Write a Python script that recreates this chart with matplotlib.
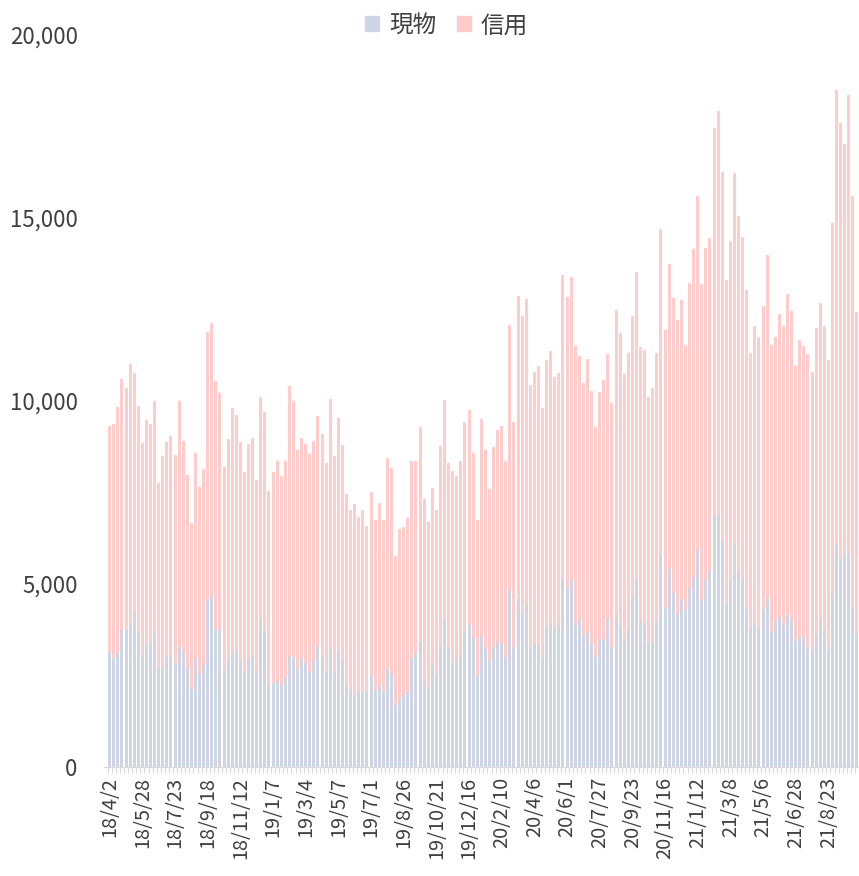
import matplotlib.pyplot as plt
import matplotlib.patches as mpatches
import numpy as np

# =========================================================
# FONTS
# =========================================================

plt.rcParams['font.family'] = ['Noto Sans CJK JP', 'DejaVu Sans']

# =========================================================
# DATA (weekly, values)
# =========================================================

date_labels = [
    "18/4/2", "18/5/28", "18/7/23", "18/9/18", "18/11/12", "19/1/7",
    "19/3/4", "19/5/7", "19/7/1", "19/8/26", "19/10/21", "19/12/16",
    "20/2/10", "20/4/6", "20/6/1", "20/7/27", "20/9/23", "20/11/16",
    "21/1/12", "21/3/8", "21/5/6", "21/6/28", "21/8/23",
]

spot = [
    3150, 2990, 3110, 3750, 3750, 3920, 4220, 3710, 3070, 3330, 3390, 3650, 2710, 2690, 3010, 3010,
    2810, 3310, 3110, 2710, 2120, 2970, 2530, 2780, 4560, 4700, 3750, 3750, 2630, 2950, 3110,
    3150, 2900, 2590, 2930, 3030, 2630, 4010, 3710, 2210, 2300, 2360, 2240, 2470, 3030, 2990, 2690,
    2950, 2830, 2590, 2930, 3310, 3070, 2590, 3190, 2570, 3150, 2870, 2230, 2090, 1970, 2050, 2060,
    2090, 2510, 2090, 2230, 2090, 2690, 2510, 1690, 1870, 1970, 2060, 2970, 3110, 3410, 2350,
    2170, 2780, 2510, 3310, 4010, 3250, 2870, 2990, 3030, 3690, 3870, 3530, 2480, 3570, 3230, 2890,
    3270, 3410, 3370, 3010, 4830, 3290, 4590, 4170, 4460, 3270, 3350, 3330, 2990, 3830, 3930,
    3770, 3890, 5130, 4880, 5120, 3890, 4040, 3570, 3680, 3350, 3010, 3500, 3470, 4070, 3270, 4170,
    3830, 3450, 3750, 4650, 5120, 3980, 3890, 3390, 3410, 3980, 5780, 4350, 5420, 4760, 4170,
    4590, 4280, 4880, 5190, 5920, 4560, 5120, 5370, 6870, 6870, 6180, 4460, 5100, 6080, 5340, 5130,
    4310, 3770, 3930, 3770, 4310, 4650, 3690, 3990, 4100, 3890, 4190, 3980, 3450, 3590, 3560, 3290,
    3190, 3620, 3990, 3710, 3190, 4710, 6120, 5640, 5800, 5820, 4350, 3630,
]

credit = [
    6160, 6380, 6720, 6860, 6600, 7080, 6550, 6150, 5770, 6140, 5980, 6350, 5060, 5800, 5880, 6030,
    5710, 6690, 5810, 5280, 4540, 5620, 5120, 5350, 7330, 7420, 6800, 6480, 5560, 6010, 6690,
    6460, 5990, 5460, 5900, 5950, 5200, 6090, 6000, 5330, 5770, 5990, 5720, 5900, 7370, 7010, 5960,
    6040, 5990, 5960, 5990, 6280, 6040, 5720, 6870, 5940, 6390, 5940, 5220, 4920, 5210, 4770, 4960,
    4490, 5010, 4670, 4980, 4650, 5760, 5670, 4070, 4640, 4600, 4750, 5380, 5260, 5890, 4980,
    4530, 4850, 4500, 5460, 6030, 5060, 5230, 4960, 5320, 5740, 5890, 5060, 4280, 5950, 5420, 4710,
    5480, 5810, 5940, 5360, 7250, 6140, 8280, 8150, 8320, 7160, 7440, 7630, 6810, 7290, 7440,
    6890, 6870, 8300, 7970, 8280, 7620, 7190, 6910, 7480, 6910, 6290, 6750, 7110, 7220, 6680, 8310,
    8020, 7300, 7550, 7660, 8410, 7500, 7500, 6730, 6950, 7320, 8930, 7580, 8330, 8050, 8030,
    8180, 7260, 8340, 8970, 9680, 8630, 9060, 9090, 10600, 11060, 10070, 8850, 9270, 10160, 9710, 9360,
    8710, 7550, 8130, 7980, 8280, 9330, 7850, 7760, 8270, 8170, 8720, 8490, 7500, 8080, 7950, 7990,
    7590, 8370, 8700, 8340, 7930, 10140, 12380, 11960, 11220, 12530, 11250, 8790,
]

spot_color = "#CFD5E3"
credit_color = "#FFCCCC"
text_color = "#404040"

# =========================================================
# FIGURE
# =========================================================

x = np.arange(len(spot))

fig = plt.figure(figsize=(8.59, 8.76), dpi=100)
ax = fig.add_axes([104 / 859, 109 / 876, 755 / 859, 732 / 876])

ax.bar(x, spot, width=0.75, color=spot_color, linewidth=0)
ax.bar(x, credit, width=0.75, bottom=spot, color=credit_color, linewidth=0)

ax.set_ylim(0, 20000)
ax.set_xlim(-1.4, len(spot) - 1.1)

# y axis
yticks = [0, 5000, 10000, 15000, 20000]
ax.set_yticks(yticks)
ax.set_yticklabels([f"{v:,}" for v in yticks], fontsize=16, color=text_color)
ax.tick_params(axis="y", length=0, pad=19)

# x axis
ax.set_xticks(x[::8])
ax.set_xticklabels(date_labels[:len(x[::8])], rotation=90, fontsize=14.4, color=text_color)
ax.set_xticks(np.arange(-0.5, len(spot), 1), minor=True)
ax.tick_params(axis="x", which="major", length=0, pad=7)
ax.tick_params(axis="x", which="minor", length=4, color="#D9D9D9", width=0.8)

for side in ["top", "right", "left"]:
    ax.spines[side].set_visible(False)
ax.spines["bottom"].set_color("#D9D9D9")

# legend
handles = [
    mpatches.Patch(color=spot_color, label="現物"),
    mpatches.Patch(color=credit_color, label="信用"),
]
fig.legend(
    handles=handles,
    loc="upper center",
    bbox_to_anchor=(0.52, 1.008),
    ncol=2,
    frameon=False,
    fontsize=17,
    handlelength=0.6,
    handleheight=0.6,
    handletextpad=0.4,
    columnspacing=0.9,
    labelcolor=text_color,
)

fig.savefig("out.png", dpi=100)
plt.close()
